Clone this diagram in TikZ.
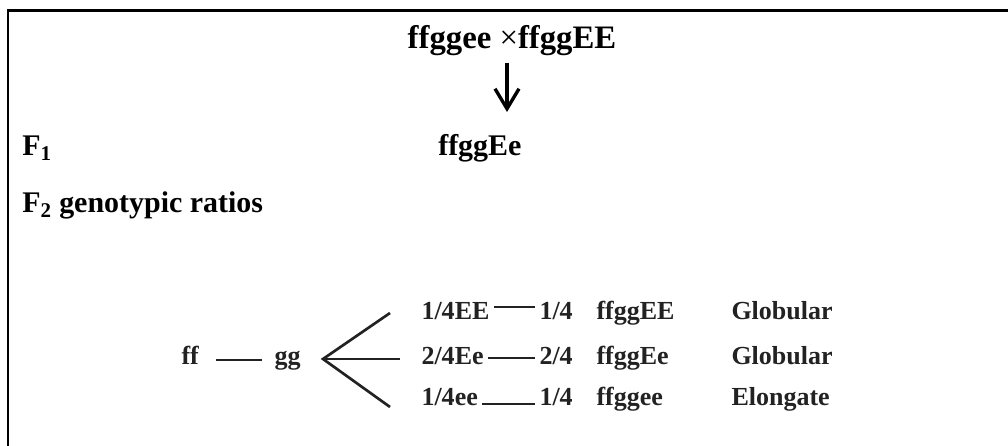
\documentclass[tikz,border=0pt]{standalone}
\usepackage{fontspec}
\setmainfont{Liberation Serif}
\usetikzlibrary{arrows.meta}
\definecolor{inkblack}{HTML}{000000}
\definecolor{scangray}{HTML}{222222}
\tikzset{
  frame/.style={line width=1.8pt, draw=inkblack},
  heading/.style={font=\fontsize{23.3}{28}\selectfont\bfseries, inner sep=0pt, text=inkblack},
  gen/.style={font=\fontsize{21.3}{26}\selectfont\bfseries, inner sep=0pt, text=inkblack, anchor=base west},
  ratio/.style={font=\fontsize{18.5}{22}\selectfont\bfseries, inner xsep=3pt, inner ysep=0pt, text=scangray, anchor=base west},
  bar/.style={line width=1.9pt, draw=scangray},
  downarrow/.style={-{Straight Barb[length=0.5cm,width=0.6cm]}, line width=2.4pt, draw=inkblack}
}
% one row of the F2 table: name, baseline, ratio, fraction, genotype, phenotype, height of the dash
\newcommand{\ratiorow}[7]{
  \node[ratio] (#1a) at (417,#2) {#3};
  \node[ratio] (#1b) at (535,#2) {#4};
  \node[ratio] (#1c) at (592,#2) {#5};
  \node[ratio] (#1d) at (727,#2) {#6};
  \draw[bar] ([shift={(0,-#7)}]#1a.base east) -- ([shift={(0,-#7)}]#1b.base west);
}

\begin{document}
\begin{tikzpicture}[x=0.025cm, y=-0.025cm]
\useasboundingbox (0,0) rectangle (1008,446);
\draw[frame] (8,446) -- (8,10.5) -- (1008,10.5);

% parents and F1
\node[heading, anchor=base] (cross) at (512,49) {ffggee {\mdseries ×}ffggEE};
\coordinate (arrowend) at (507,112);
\draw[downarrow] ([shift={(-5,6)}]cross.south) -- (arrowend);
\node[gen] (f1) at (22,156) {F\textsubscript{1}};
\node[gen] (hybrid) at (438,156) {ffggEe};
\node[gen] (f2) at (22,213) {F\textsubscript{2} genotypic ratios};

% F2 breakdown
\node[ratio] (ff) at (177,364) {ff};
\node[ratio] (gg) at (270,364) {gg};
\draw[bar, shorten <=9pt, shorten >=6pt] ([shift={(0,-4)}]ff.base east) -- ([shift={(0,-4)}]gg.base west);
\coordinate (fork) at (323,359);
\coordinate (up) at (390,313);
\coordinate (mid) at (400,359);
\coordinate (down) at (390,407);
\draw[bar] (up) -- (fork) -- (down);
\draw[bar] (fork) -- (mid);
\ratiorow{ee}{319}{1/4EE}{1/4}{ffggEE}{Globular}{12}
\ratiorow{ep}{364}{2/4Ee}{2/4}{ffggEe}{Globular}{6}
\ratiorow{pp}{405}{1/4ee}{1/4}{ffggee}{Elongate}{1}
\end{tikzpicture}
\end{document}
